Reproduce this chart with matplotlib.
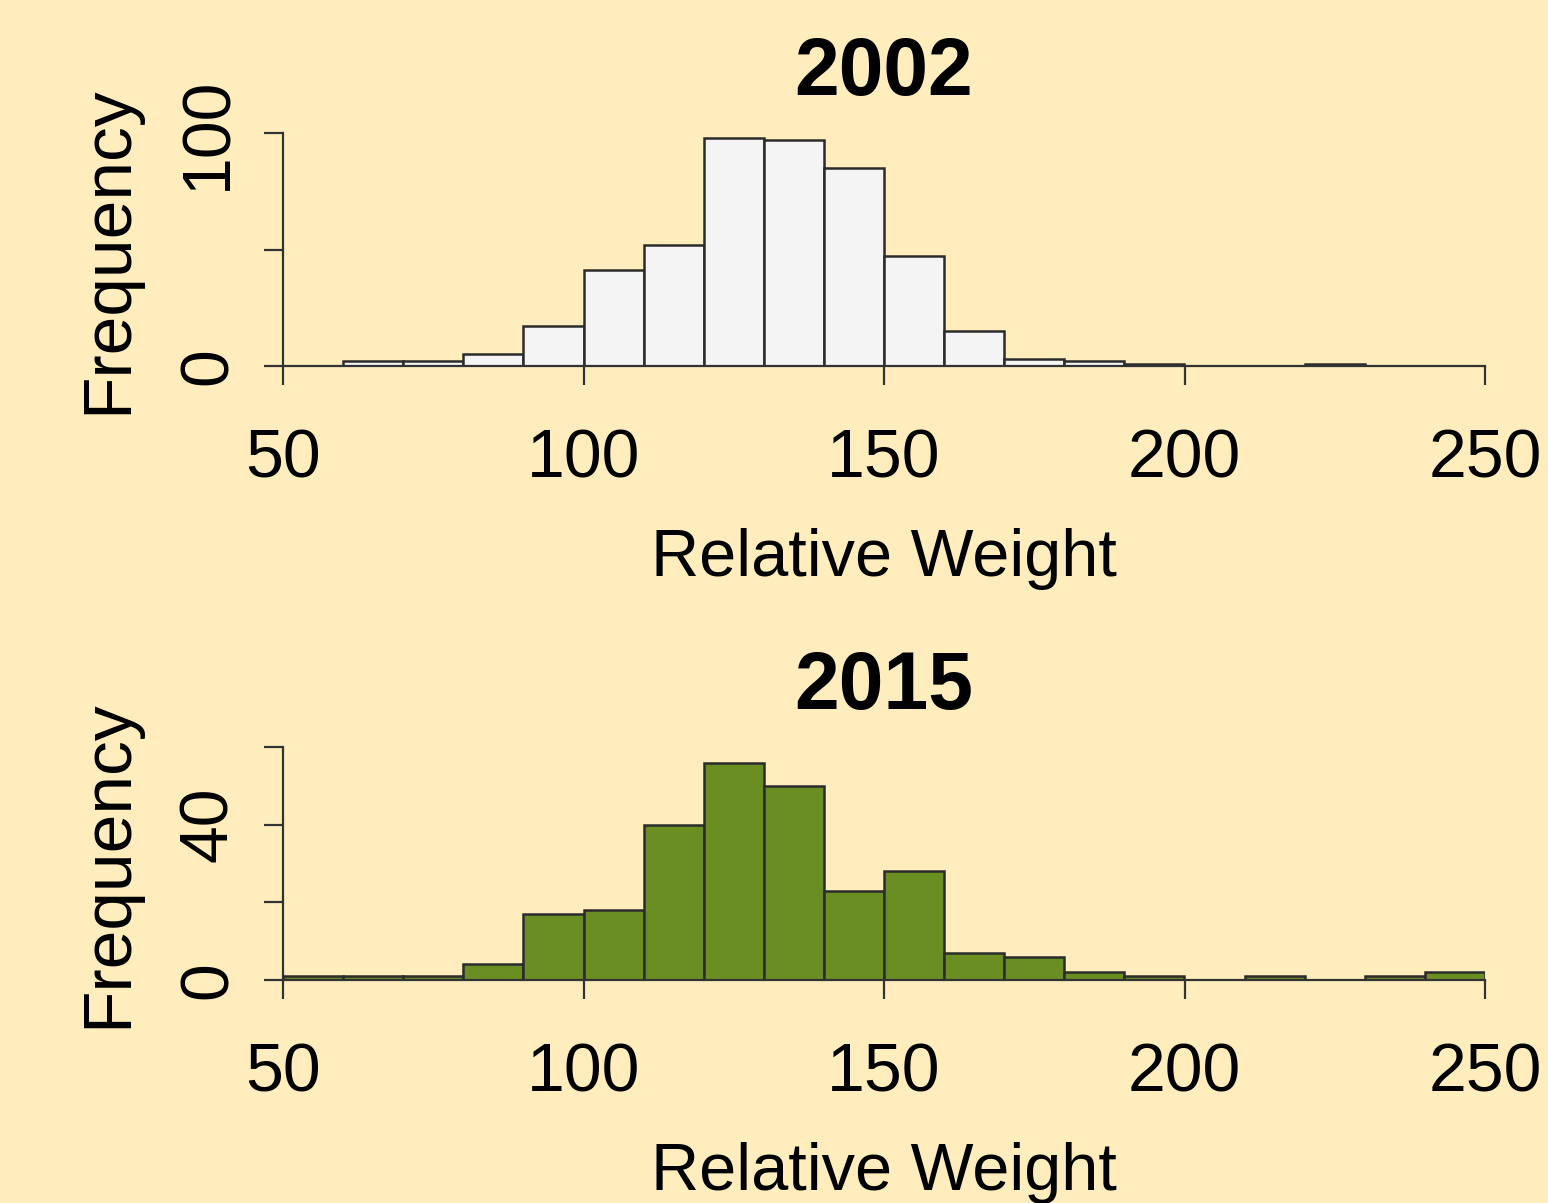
import numpy as np
import matplotlib
matplotlib.use("Agg")
import matplotlib.pyplot as plt

# histogram counts per 10-unit bin of relative weight
bin_edges = list(range(50, 260, 10))
counts_2002 = [0, 2, 2, 5, 17, 41, 52, 98, 97, 85, 47, 15, 3, 2, 1, 0, 0, 1, 0, 0]
counts_2015 = [1, 1, 1, 4, 17, 18, 40, 56, 50, 23, 28, 7, 6, 2, 1, 0, 1, 0, 1, 2]

years = ["2002", "2015"]
x_ticks = [50, 100, 150, 200, 250]

BG = "#FFEDBD"
AXCOL = "#333333"

plt.rcParams['font.family'] = ['Liberation Sans', 'DejaVu Sans']

fig = plt.figure(figsize=(15.48, 12.03), dpi=100, facecolor=BG)


def draw_hist(ax, counts, title, fill, ymax, yticks, ylabels):
    ax.set_facecolor(BG)
    left = bin_edges[:-1]
    ax.bar(left, counts, width=10, align='edge', color=fill,
           edgecolor="#2b2b2b", linewidth=1.8, zorder=3)
    ax.set_xlim(50, 250)
    ax.set_ylim(0, ymax)
    for s in ['top', 'right']:
        ax.spines[s].set_visible(False)
    for s in ['left', 'bottom']:
        ax.spines[s].set_color(AXCOL)
        ax.spines[s].set_linewidth(1.6)
    ax.spines['bottom'].set_zorder(4)
    ax.spines['bottom'].set_bounds(50, 250)
    ax.spines['left'].set_bounds(0, ymax)

    ax.set_xticks(x_ticks)
    ax.set_xticklabels([str(t) for t in x_ticks])
    ax.set_yticks(yticks)
    ax.set_yticklabels(ylabels, rotation=90, va='center')
    ax.tick_params(axis='both', direction='out', length=13.5, width=1.6,
                   color=AXCOL, labelsize=49, labelcolor='black')
    ax.tick_params(axis='x', pad=31)
    ax.tick_params(axis='y', pad=17)

    ax.set_xlabel("Relative Weight", fontsize=48, labelpad=26)
    ax.set_ylabel("Frequency", fontsize=50, labelpad=26)
    ax.set_title(title, fontsize=58, fontweight='bold', pad=27)


ax1 = fig.add_axes([283 / 1548, 837 / 1203, 1202 / 1548, 233 / 1203])
draw_hist(ax1, counts_2002, years[0], "#F4F4F4", 100,
          [0, 50, 100], ["0", "", "100"])

ax2 = fig.add_axes([283 / 1548, 223 / 1203, 1202 / 1548, 233 / 1203])
draw_hist(ax2, counts_2015, years[1], "#6B8E23", 60,
          [0, 20, 40, 60], ["0", "", "40", ""])

fig.savefig("out.png", dpi=100, facecolor=BG)
